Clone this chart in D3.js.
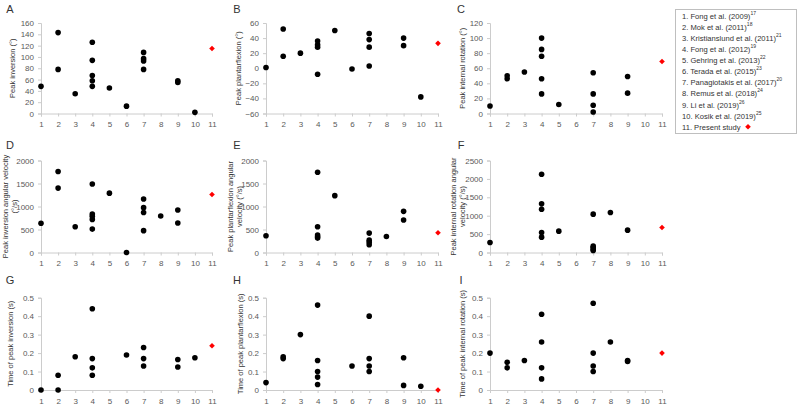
<!DOCTYPE html>
<html><head><meta charset="utf-8">
<script src="https://cdn.jsdelivr.net/npm/d3@7"></script>
<style>
html,body{margin:0;padding:0;background:#fff;}
svg{display:block;font-family:"Liberation Sans",Arial,sans-serif;}
</style></head>
<body>
<svg id="chart" width="798" height="405"></svg>
<script>
// ---------- DATA ----------
const studyTicks = [1,2,3,4,5,6,7,8,9,10,11];
const peakInversion = [[1,48],[2,143],[2,78],[3,35],[4,126],[4,94],[4,67],[4,58],[4,48],[5,45],[6,13],[7,108],[7,97],[7,93],[7,78],[9,58],[9,55],[10,2]];
const peakPlantarflexion = [[1,1],[2,52],[2,16],[3,20],[4,36],[4,31],[4,28],[4,-8],[5,50],[6,-1],[7,46],[7,38],[7,28],[7,3],[9,40],[9,30],[10,-38]];
const peakInternalRotation = [[1,10],[2,50],[2,46],[3,55],[4,100],[4,85],[4,76],[4,46],[4,26],[5,12],[7,54],[7,26],[7,11],[7,2],[9,49],[9,27]];
const peakInversionVel = [[1,635],[2,1760],[2,1400],[3,560],[4,1490],[4,836],[4,790],[4,720],[4,509],[5,1290],[6,0],[7,1163],[7,975],[7,870],[7,475],[8,795],[9,925],[9,640]];
const peakPlantarflexionVel = [[1,364],[4,1745],[4,560],[4,378],[4,342],[4,313],[5,1236],[7,422],[7,269],[7,225],[7,167],[8,349],[9,895],[9,705]];
const peakInternalRotationVel = [[1,272],[4,2128],[4,1322],[4,1177],[4,543],[4,417],[5,580],[7,1042],[7,172],[7,136],[7,91],[7,54],[8,1087],[9,607]];
const timeInversion = [[1,0],[2,0.08],[2,0],[3,0.18],[4,0.44],[4,0.17],[4,0.12],[4,0.08],[6,0.19],[7,0.23],[7,0.17],[7,0.13],[9,0.165],[9,0.125],[10,0.175]];
const timePlantarflexion = [[1,0.04],[2,0.18],[2,0.17],[3,0.3],[4,0.46],[4,0.16],[4,0.1],[4,0.07],[4,0.03],[6,0.13],[7,0.4],[7,0.17],[7,0.13],[7,0.1],[9,0.175],[9,0.025],[10,0.02]];
const timeInternalRotation = [[1,0.2],[2,0.15],[2,0.12],[3,0.16],[4,0.41],[4,0.26],[4,0.12],[4,0.06],[7,0.47],[7,0.2],[7,0.13],[7,0.1],[8,0.26],[9,0.16],[9,0.155]];
const presentStudy = [115, 33, 69, 1260, 430, 680, 0.24, 0, 0.2];
const panelLetters = ["A","B","C","D","E","F","G","H","I"];
const yTitles = [
  ["Peak inversion (°)"],["Peak plantarflexion (°)"],["Peak internal rotation (°)"],
  ["Peak inversion angular velocity","(°/s)"],["Peak plantarflexion angular","velocity (°/s)"],["Peak internal rotation angular","velocity (°/s)"],
  ["Time of peak inversion (s)"],["Time of peak plantarflexion (s)"],["Time of peak internal rotation (s)"]
];
const yTickValues = [
  [0,20,40,60,80,100,120,140,160],[-60,-40,-20,0,20,40,60],[0,20,40,60,80,100,120],
  [0,500,1000,1500,2000],[0,500,1000,1500,2000],[0,500,1000,1500,2000,2500],
  [0,0.1,0.2,0.3,0.4,0.5],[0,0.1,0.2,0.3,0.4,0.5],[0,0.1,0.2,0.3,0.4,0.5]
];
const legendLabels = ["1. Fong et al. (2009)","2. Mok et al. (2011)","3. Kristianslund et al. (2011)","4. Fong et al. (2012)","5. Gehring et al. (2013)","6. Terada et al. (2015)","7. Panagiotakis et al. (2017)","8. Remus et al. (2018)","9. Li et al. (2019)","10. Kosik et al. (2019)","11. Present study"];
const legendRefs = ["17","18","21","19","22","23","20","24","26","25",""];
const panelData = [peakInversion,peakPlantarflexion,peakInternalRotation,peakInversionVel,peakPlantarflexionVel,peakInternalRotationVel,timeInversion,timePlantarflexion,timeInternalRotation];

// ---------- LAYOUT ----------
const colX = [[41,212],[266,438],[490,662]];
const rowY = [[23,113.5],[160.5,252.5],[297.7,390]];
const titleX = [[12],[238],[462],[5.5,14],[230,239],[453,462],[10],[240],[462]];
const letterX = [10,237,461];
const letterY = [13,149,284];
const axisColor = "#cccccc";
const tickTextColor = "#595959";
const marker = d3.symbol(d3.symbolDiamond2, 20)();

const svg = d3.select("#chart");

panelData.forEach((data, i) => {
  const c = i % 3, r = Math.floor(i / 3);
  const x = d3.scaleLinear().domain([1, 11]).range(colX[c]);
  const yt = yTickValues[i];
  const y = d3.scaleLinear().domain([yt[0], yt[yt.length-1]]).range([rowY[r][1], rowY[r][0]]);
  const g = svg.append("g");

  const xa = g.append("g").attr("transform", `translate(0,${rowY[r][1]})`)
    .call(d3.axisBottom(x).tickValues(studyTicks).tickSize(3).tickPadding(5).tickFormat(d3.format("d")));
  const fmt = r === 2 ? (d => d === 0 ? "0" : d3.format(".1f")(d)) : d3.format("d");
  const ya = g.append("g").attr("transform", `translate(${colX[c][0]},0)`)
    .call(d3.axisLeft(y).tickValues(yt).tickSize(3).tickPadding(4).tickFormat(fmt));
  [xa, ya].forEach(a => {
    a.selectAll("path, line").attr("stroke", axisColor).attr("stroke-width", 1);
    a.selectAll("text").attr("fill", tickTextColor).style("font-size", "8px");
  });

  g.append("text").attr("x", letterX[c]).attr("y", letterY[r]).attr("text-anchor", "middle")
    .style("font-size", "11px").attr("fill", "#333").text(panelLetters[i]);

  const midY = (rowY[r][0] + rowY[r][1]) / 2;
  yTitles[i].forEach((t, k) => {
    g.append("text").attr("transform", `translate(${titleX[i][k]},${midY}) rotate(-90)`)
      .attr("text-anchor", "middle").attr("dominant-baseline", "central")
      .style("font-size", "7.5px").attr("fill", "#333").text(t);
  });

  g.selectAll("circle.pt").data(data).enter().append("circle")
    .attr("cx", d => x(d[0])).attr("cy", d => y(d[1])).attr("r", 2.8).attr("fill", "#000");

  g.append("path").attr("d", marker)
    .attr("transform", `translate(${x(11)},${y(presentStudy[i])})`).attr("fill", "#ff0000");
});

// ---------- LEGEND ----------
const lg = svg.append("g");
lg.append("rect").attr("x", 675.5).attr("y", 9.5).attr("width", 121).attr("height", 124)
  .attr("fill", "#fff").attr("stroke", "#bfbfbf").attr("stroke-width", 1);
const ly = d3.scaleLinear().domain([0, 10]).range([15.7, 126.7]);
legendLabels.forEach((t, k) => {
  const txt = lg.append("text").attr("x", 682).attr("y", ly(k)).attr("dominant-baseline", "central")
    .style("font-size", "7.6px").attr("fill", "#333");
  txt.append("tspan").text(t);
  if (legendRefs[k]) txt.append("tspan").attr("dy", -3).style("font-size", "5px").text(legendRefs[k]);
});
lg.append("path").attr("d", marker)
  .attr("transform", `translate(748,${ly(10)})`).attr("fill", "#ff0000");
</script>
</body></html>
